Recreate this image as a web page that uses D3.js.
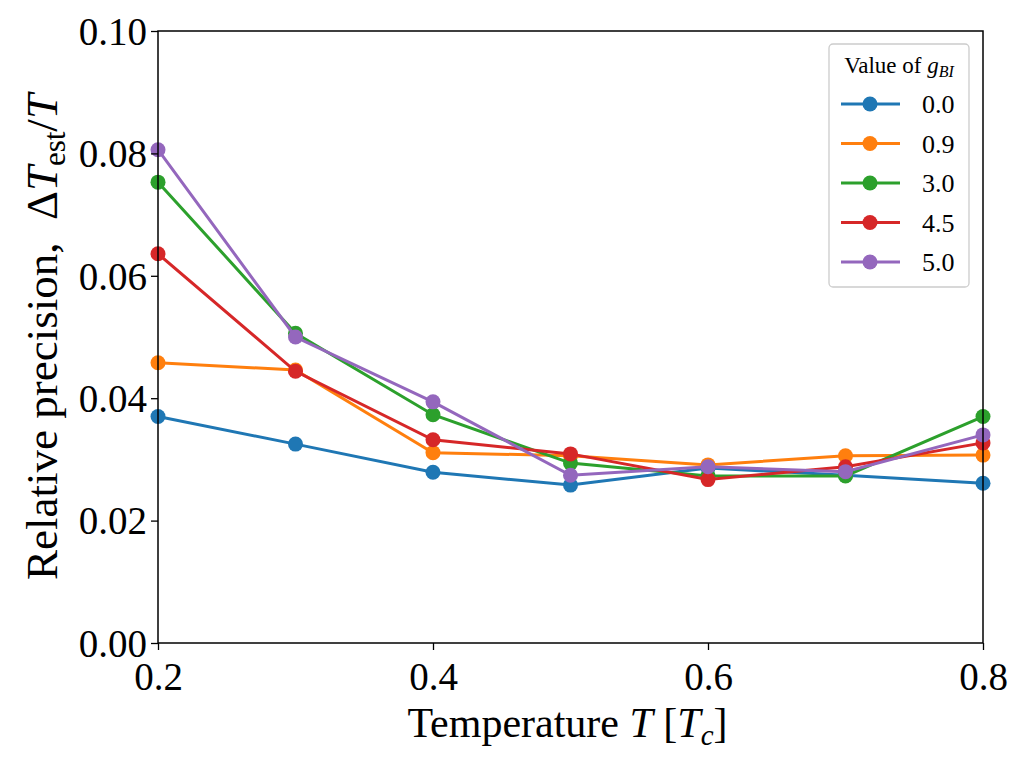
<!DOCTYPE html>
<html><head><meta charset="utf-8">
<script src="https://cdn.jsdelivr.net/npm/d3@7"></script>
<style>body{margin:0;background:#fff}svg{display:block}text{font-family:"Liberation Serif","Times New Roman",serif;fill:#000}</style>
</head><body>
<svg id="c" width="1026" height="769"></svg>
<script>
const temps = [0.2, 0.3, 0.4, 0.5, 0.6, 0.7, 0.8];
const gLabels = ["0.0", "0.9", "3.0", "4.5", "5.0"];
const g00 = [0.0370, 0.0325, 0.0279, 0.0258, 0.0286, 0.0274, 0.0261];
const g09 = [0.0458, 0.0446, 0.0311, 0.0306, 0.0291, 0.0306, 0.0307];
const g30 = [0.0753, 0.0506, 0.0373, 0.0294, 0.0273, 0.0273, 0.0370];
const g45 = [0.0636, 0.0444, 0.0332, 0.0309, 0.0267, 0.0288, 0.0327];
const g50 = [0.0806, 0.0500, 0.0394, 0.0274, 0.0288, 0.0280, 0.0340];
const xTicks = [0.2, 0.4, 0.6, 0.8];
const yTicks = [0.00, 0.02, 0.04, 0.06, 0.08, 0.10];
const colors = ["#1f77b4", "#ff7f0e", "#2ca02c", "#d62728", "#9467bd"];
const series = [g00, g09, g30, g45, g50];

const svg = d3.select("#c");
const L = 158, R = 983, T = 31, B = 643;
const x = d3.scaleLinear().domain([0.2, 0.8]).range([L, R]);
const y = d3.scaleLinear().domain([0, 0.10]).range([B, T]);

const line = d3.line().x((d, i) => x(temps[i])).y(d => y(d));
series.forEach((s, k) => {
  const g = svg.append("g");
  g.append("path").datum(s).attr("d", line).attr("fill", "none")
    .attr("stroke", colors[k]).attr("stroke-width", 3);
  g.selectAll("circle").data(s).join("circle")
    .attr("cx", (d, i) => x(temps[i])).attr("cy", d => y(d)).attr("r", 7.5)
    .attr("fill", colors[k]);
});

const xa = svg.append("g").attr("transform", `translate(0,${B})`)
  .call(d3.axisBottom(x).tickValues(xTicks).tickFormat(d3.format(".1f")).tickSize(7).tickSizeOuter(0));
const ya = svg.append("g").attr("transform", `translate(${L},0)`)
  .call(d3.axisLeft(y).tickValues(yTicks).tickFormat(d3.format(".2f")).tickSize(7).tickSizeOuter(0));
[xa, ya].forEach(a => {
  a.select(".domain").remove();
  a.selectAll(".tick line").attr("stroke", "#000").attr("stroke-width", 1.3);
  a.selectAll(".tick text").attr("font-size", 39).attr("font-family", "Liberation Serif").attr("fill", "#000");
});
xa.selectAll(".tick text").attr("dy", null).attr("y", 47);
ya.selectAll(".tick text").attr("x", -11).attr("dy", "0.34em");

svg.append("rect").attr("x", L).attr("y", T).attr("width", R - L).attr("height", B - T)
  .attr("fill", "none").attr("stroke", "#000").attr("stroke-width", 1.5);

// x label
const xl = svg.append("text").attr("x", (L + R) / 2 - 3).attr("y", 737).attr("text-anchor", "middle").attr("font-size", 42);
xl.append("tspan").text("Temperature ");
xl.append("tspan").attr("font-style", "italic").text("T");
xl.append("tspan").text(" [");
xl.append("tspan").attr("font-style", "italic").text("T");
xl.append("tspan").attr("font-style", "italic").attr("font-size", 29).attr("dy", 8).text("c");
xl.append("tspan").attr("dy", -8).text("]");

// y label
const yl = svg.append("text").attr("transform", `translate(57,${(T + B) / 2}) rotate(-90)`)
  .attr("text-anchor", "middle").attr("font-size", 45);
yl.append("tspan").text("Relative precision,\u00a0\u00a0\u0394");
yl.append("tspan").attr("font-style", "italic").text("T");
yl.append("tspan").attr("font-size", 31).attr("dy", 8).text("est");
yl.append("tspan").attr("dy", -8).text("/");
yl.append("tspan").attr("font-style", "italic").text("T");

// legend
const lg = svg.append("g");
lg.append("rect").attr("x", 829).attr("y", 44).attr("width", 140).attr("height", 243).attr("rx", 4)
  .attr("fill", "#fff").attr("fill-opacity", 0.8).attr("stroke", "#ccc").attr("stroke-width", 1.3);
const lt = lg.append("text").attr("x", 899).attr("y", 73).attr("text-anchor", "middle").attr("font-size", 23);
lt.append("tspan").text("Value of ");
lt.append("tspan").attr("font-style", "italic").text("g");
lt.append("tspan").attr("font-style", "italic").attr("font-size", 16).attr("dy", 4).text("BI");
gLabels.forEach((lab, k) => {
  const yy = 104 + k * 39.5;
  lg.append("line").attr("x1", 841).attr("x2", 900).attr("y1", yy).attr("y2", yy)
    .attr("stroke", colors[k]).attr("stroke-width", 3);
  lg.append("circle").attr("cx", 870).attr("cy", yy).attr("r", 7.5).attr("fill", colors[k]);
  lg.append("text").attr("x", 922).attr("y", yy).attr("dy", "0.35em").attr("font-size", 26).text(lab);
});
</script>
</body></html>
